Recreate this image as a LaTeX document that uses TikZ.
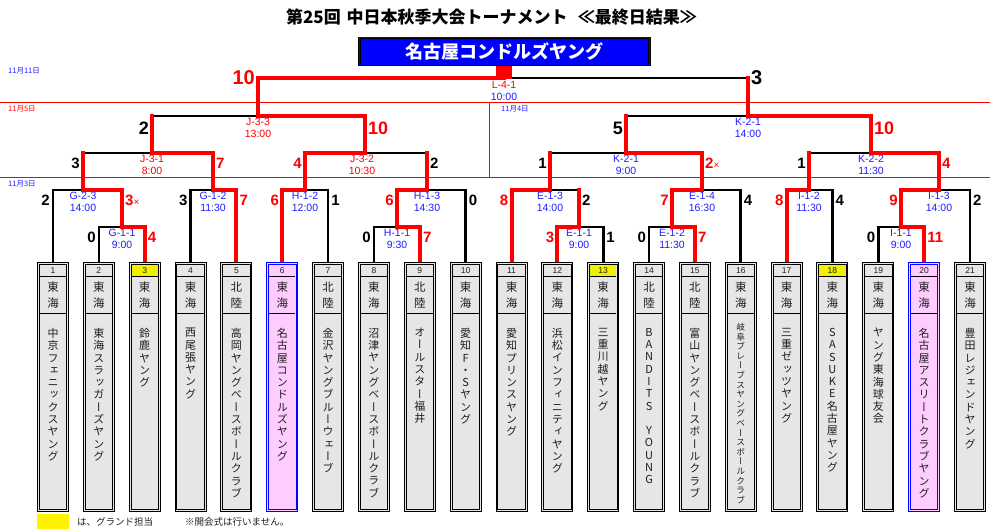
\documentclass[tikz,border=0pt]{standalone}
\usepackage{fontspec}
\setmainfont{Liberation Sans}
\newfontfamily\cjk{Noto Sans CJK JP}
\newfontfamily\cjkv[RawFeature={+vert}]{Noto Sans CJK JP}
\usetikzlibrary{backgrounds}
\definecolor{lblue}{RGB}{30,30,255}
\definecolor{boxgray}{RGB}{230,230,230}
\definecolor{pinkf}{RGB}{255,204,255}
\definecolor{cellyel}{RGB}{240,240,0}
\definecolor{nametext}{RGB}{30,30,30}
\makeatletter
\def\vst#1{\vst@a#1\relax}
\def\vst@a#1{#1\vst@b}
\def\vst@b#1{\ifx\relax#1\else\\#1\expandafter\vst@b\fi}
\makeatother
\newcommand{\xmk}{{\fontsize{10}{10}\selectfont\mdseries ×}}
\tikzset{
 blk/.style={draw=black, line width=2.6pt, line cap=rect},
 win/.style={draw=red, line width=4pt, line cap=rect},
 sepl/.style={draw=red, line width=0.9pt},
 tbox/.style={rectangle, minimum width=31pt, minimum height=249pt, inner sep=0pt, line width=1pt},
 innerframe/.style={line width=0.8pt},
 sepbox/.style={draw=black, line width=0.85pt},
 numtxt/.style={font=\fontsize{8.5}{8.5}\selectfont, inner sep=0pt, text=nametext},
 regtxt/.style={font=\cjk\fontsize{11.5}{16}\selectfont, align=center, inner sep=0pt, text=nametext},
 nametxt/.style={font=\cjkv\fontsize{11}{12.3}\selectfont, align=center, inner sep=0pt, anchor=north, text=nametext},
 sL/.style={anchor=base east, xshift=-3pt, yshift=-16pt, inner sep=0pt, font=\fontsize{15}{15}\selectfont\bfseries},
 sR/.style={anchor=base west, xshift=3pt, yshift=-16pt, inner sep=0pt, font=\fontsize{15}{15}\selectfont\bfseries},
 sLb/.style={anchor=base east, xshift=-3pt, yshift=-19pt, inner sep=0pt, font=\fontsize{18}{18}\selectfont\bfseries},
 sRb/.style={anchor=base west, xshift=3pt, yshift=-19pt, inner sep=0pt, font=\fontsize{18}{18}\selectfont\bfseries},
 sLf/.style={anchor=base east, xshift=-3pt, yshift=-7pt, inner sep=0pt, font=\fontsize{20}{20}\selectfont\bfseries},
 sRf/.style={anchor=base west, xshift=3pt, yshift=-7pt, inner sep=0pt, font=\fontsize{20}{20}\selectfont\bfseries},
 mlab/.style={anchor=north, yshift=-2pt, align=center, inner sep=0pt, font=\fontsize{10.5}{12.3}\selectfont, text=lblue},
 mlabr/.style={mlab, text=red},
 datelab/.style={anchor=west, inner sep=0pt, font=\cjk\fontsize{7.5}{7.5}\selectfont},
}
\newcommand{\teambox}[8]{%
 \node[tbox, fill=#3, draw=#4] (b#1) at (#2,386.9) {};
 \fill[#5] (#2-13.2,264.7) rectangle (#2+13.2,276.7);
 \draw[innerframe, draw=#4] ([shift={(2.3pt,-2.3pt)}]b#1.north west) rectangle ([shift={(-2.3pt,2.3pt)}]b#1.south east);
 \draw[sepbox] (#2-13.2,276.7) -- (#2+13.2,276.7);
 \draw[sepbox] (#2-13.2,313.3) -- (#2+13.2,313.3);
 \node[numtxt] (n#1) at (#2,270.6) {#1};
 \node[regtxt] (r#1) at (#2,295) {#6};
 \node[nametxt, #8] (m#1) at (#2,328) {#7};
}
\begin{document}
\begin{tikzpicture}[x=1pt,y=-1pt]
\useasboundingbox (0,0) rectangle (993,529);

% title and champion
\node[font=\cjk\bfseries\fontsize{17}{17}\selectfont, inner sep=0pt] (title) at (491.5,17.5) {第25回\hspace{0.35em}中日本秋季大会トーナメント\hspace{0.6em}≪最終日結果≫};
\node[draw=black, double=blue, double distance=1pt, line width=0.7pt, fill=blue, minimum width=290pt, minimum height=27pt, inner sep=0pt, text=white, font=\cjk\bfseries\fontsize{18}{18}\selectfont] (banner) at (504.5,51.5) {名古屋コンドルズヤング};

% dates
\node[datelab, text=lblue] (d1) at (8,71) {11月11日};
\node[datelab, text=red] (d2) at (8,109) {11月5日};
\node[datelab, text=lblue] (d3) at (501,108.5) {11月4日};
\node[datelab, text=lblue] (d4) at (8,183.5) {11月3日};

% team boxes
\teambox{1}{53}{boxgray}{black}{boxgray}{東\\海}{\vst{中京フェニックスヤング}}{}
\teambox{2}{98.85}{boxgray}{black}{boxgray}{東\\海}{\vst{東海スラッガーズヤング}}{}
\teambox{3}{144.7}{boxgray}{black}{cellyel}{東\\海}{\vst{鈴鹿ヤング}}{}
\teambox{4}{190.55}{boxgray}{black}{boxgray}{東\\海}{\vst{西尾張ヤング}}{}
\teambox{5}{236.4}{boxgray}{black}{boxgray}{北\\陸}{\vst{高岡ヤングベースボールクラブ}}{}
\teambox{6}{282.25}{pinkf}{blue}{pinkf}{東\\海}{\vst{名古屋コンドルズヤング}}{}
\teambox{7}{328.1}{boxgray}{black}{boxgray}{北\\陸}{\vst{金沢ヤングブルーウェーブ}}{}
\teambox{8}{373.95}{boxgray}{black}{boxgray}{東\\海}{\vst{沼津ヤングベースボールクラブ}}{}
\teambox{9}{419.8}{boxgray}{black}{boxgray}{北\\陸}{\vst{オールスター福井}}{}
\teambox{10}{465.65}{boxgray}{black}{boxgray}{東\\海}{\vst{愛知F・Sヤング}}{}
\teambox{11}{511.5}{boxgray}{black}{boxgray}{東\\海}{\vst{愛知プリンスヤング}}{}
\teambox{12}{557.35}{boxgray}{black}{boxgray}{東\\海}{\vst{浜松インフィニティヤング}}{}
\teambox{13}{603.2}{boxgray}{black}{cellyel}{東\\海}{\vst{三重川越ヤング}}{}
\teambox{14}{649.05}{boxgray}{black}{boxgray}{北\\陸}{\vst{BANDITS~YOUNG}}{}
\teambox{15}{694.9}{boxgray}{black}{boxgray}{北\\陸}{\vst{富山ヤングベースボールクラブ}}{}
\teambox{16}{740.75}{boxgray}{black}{boxgray}{東\\海}{\vst{岐阜ブレーブスヤングベースボールクラブ}}{font=\cjkv\fontsize{8.7}{9.6}\selectfont, yshift=5pt}
\teambox{17}{786.6}{boxgray}{black}{boxgray}{東\\海}{\vst{三重ゼッツヤング}}{}
\teambox{18}{832.45}{boxgray}{black}{cellyel}{東\\海}{\vst{SASUKE名古屋ヤング}}{}
\teambox{19}{878.3}{boxgray}{black}{boxgray}{東\\海}{\vst{ヤング東海球友会}}{}
\teambox{20}{924.15}{pinkf}{blue}{pinkf}{東\\海}{\vst{名古屋アスリートクラブヤング}}{}
\teambox{21}{970}{boxgray}{black}{boxgray}{東\\海}{\vst{豊田レジェンドヤング}}{}

% match junctions
\coordinate (G11) at (122,227);
\coordinate (G23) at (83,190);
\coordinate (G12) at (213,190);
\coordinate (J31) at (152,153);
\coordinate (H12) at (305,190);
\coordinate (H11) at (397,227);
\coordinate (H13) at (427,190);
\coordinate (J32) at (365,153);
\coordinate (J33) at (258,116);
\coordinate (FIN) at (504,78);
\coordinate (E11) at (579,227);
\coordinate (E13) at (550,190);
\coordinate (E12) at (672,227);
\coordinate (E14) at (702,190);
\coordinate (K21a) at (626,153);
\coordinate (I12) at (809,190);
\coordinate (I11) at (901,227);
\coordinate (I13) at (939,190);
\coordinate (K22) at (871,153);
\coordinate (K21b) at (748,116);

\begin{scope}[on background layer]
 % date separators
 \draw[sepl] (0,102) -- (990,102);
 \draw[sepl] (0,177.5) -- (990,177.5);
 \draw[sepl] (489,102) -- (489,177.5);
 \draw[red, line width=1.8pt, dash pattern=on 1.2pt off 1.2pt] (508,177.5) -- (548,177.5);
 % losers
 \draw[blk] (b1.north) |- (G23);
 \draw[blk] (b2.north) |- (G11);
 \draw[blk] (b4.north) |- (G12);
 \draw[blk] (b7.north) |- (H12);
 \draw[blk] (b8.north) |- (H11);
 \draw[blk] (b10.north) |- (H13);
 \draw[blk] (b13.north) |- (E11);
 \draw[blk] (b14.north) |- (E12);
 \draw[blk] (b16.north) |- (E14);
 \draw[blk] (b18.north) |- (I12);
 \draw[blk] (b19.north) |- (I11);
 \draw[blk] (b21.north) |- (I13);
 \draw[blk] (G23 |- J31) -- (J31);
 \draw[blk] (J31 |- J33) -- (J33);
 \draw[blk] (H13 |- J32) -- (J32);
 \draw[blk] (E11 |- E13) -- (E13);
 \draw[blk] (E13 |- K21a) -- (K21a);
 \draw[blk] (K21a |- K21b) -- (K21b);
 \draw[blk] (I12 |- K22) -- (K22);
 \draw[blk] (K21b |- FIN) -- (FIN);
 % winners
 \draw[win] (b3.north) |- (G11);
 \draw[win] (b5.north) |- (G12);
 \draw[win] (b6.north) |- (H12);
 \draw[win] (b9.north) |- (H11);
 \draw[win] (b11.north) |- (E13);
 \draw[win] (b12.north) |- (E11);
 \draw[win] (b15.north) |- (E12);
 \draw[win] (b17.north) |- (I12);
 \draw[win] (b20.north) |- (I11);
 \draw[win] (G11 |- G23) -- (G23);
 \draw[win] (G12 |- J31) -- (J31);
 \draw[win] (H12 |- J32) -- (J32);
 \draw[win] (H11 |- H13) -- (H13);
 \draw[win] (J32 |- J33) -- (J33);
 \draw[win] (J33 |- FIN) -- (FIN);
 \draw[win] (E12 |- E14) -- (E14);
 \draw[win] (E14 |- K21a) -- (K21a);
 \draw[win] (I11 |- I13) -- (I13);
 \draw[win] (I13 |- K22) -- (K22);
 \draw[win] (K22 |- K21b) -- (K21b);
 % winner stems
 \draw[win] (G11) -- (G11 |- G23);
 \draw[win] (G23) -- (G23 |- J31);
 \draw[win] (G12) -- (G12 |- J31);
 \draw[win] (J31) -- (J31 |- J33);
 \draw[win] (H12) -- (H12 |- J32);
 \draw[win] (H11) -- (H11 |- H13);
 \draw[win] (H13) -- (H13 |- J32);
 \draw[win] (J32) -- (J32 |- J33);
 \draw[win] (J33) -- (J33 |- FIN);
 \draw[win] (E11) -- (E11 |- E13);
 \draw[win] (E13) -- (E13 |- K21a);
 \draw[win] (E12) -- (E12 |- E14);
 \draw[win] (E14) -- (E14 |- K21a);
 \draw[win] (K21a) -- (K21a |- K21b);
 \draw[win] (I12) -- (I12 |- K22);
 \draw[win] (I11) -- (I11 |- I13);
 \draw[win] (I13) -- (I13 |- K22);
 \draw[win] (K22) -- (K22 |- K21b);
 \draw[win] (K21b) -- (K21b |- FIN);
 \draw[red, line width=16pt] ([yshift=-1pt]FIN) -- (FIN |- banner.south);
\end{scope}

% scores
\node[sL] (s1) at (b2.north |- G11) {0};
\node[sR, red] (s2) at (b3.north |- G11) {4};
\node[sL] (s3) at (b1.north |- G23) {2};
\node[sR, red] (s4) at (G11 |- G23) {3\xmk};
\node[sL] (s5) at (b4.north |- G12) {3};
\node[sR, red] (s6) at (b5.north |- G12) {7};
\node[sL] (s7) at (G23 |- J31) {3};
\node[sR, red] (s8) at (G12 |- J31) {7};
\node[sL, red] (s9) at (b6.north |- H12) {6};
\node[sR] (s10) at (b7.north |- H12) {1};
\node[sL] (s11) at (b8.north |- H11) {0};
\node[sR, red] (s12) at (b9.north |- H11) {7};
\node[sL, red] (s13) at (H11 |- H13) {6};
\node[sR] (s14) at (b10.north |- H13) {0};
\node[sL, red] (s15) at (H12 |- J32) {4};
\node[sR] (s16) at (H13 |- J32) {2};
\node[sLb] (s17) at (J31 |- J33) {2};
\node[sRb, red] (s18) at (J32 |- J33) {10};
\node[sLf, red] (s19) at (J33 |- FIN) {10};
\node[sRf] (s20) at (K21b |- FIN) {3};
\node[sL, red] (s21) at (b12.north |- E11) {3};
\node[sR] (s22) at (b13.north |- E11) {1};
\node[sL, red] (s23) at (b11.north |- E13) {8};
\node[sR] (s24) at (E11 |- E13) {2};
\node[sL] (s25) at (b14.north |- E12) {0};
\node[sR, red] (s26) at (b15.north |- E12) {7};
\node[sL, red] (s27) at (E12 |- E14) {7};
\node[sR] (s28) at (b16.north |- E14) {4};
\node[sL] (s29) at (E13 |- K21a) {1};
\node[sR, red] (s30) at (E14 |- K21a) {2\xmk};
\node[sL, red] (s31) at (b17.north |- I12) {8};
\node[sR] (s32) at (b18.north |- I12) {4};
\node[sL] (s33) at (b19.north |- I11) {0};
\node[sR, red] (s34) at (b20.north |- I11) {11};
\node[sL, red] (s35) at (I11 |- I13) {9};
\node[sR] (s36) at (b21.north |- I13) {2};
\node[sL] (s37) at (I12 |- K22) {1};
\node[sR, red] (s38) at (I13 |- K22) {4};
\node[sLb] (s39) at (K21a |- K21b) {5};
\node[sRb, red] (s40) at (K22 |- K21b) {10};

% match labels
\node[mlab] (l1) at (G11) {G-1-1\\9:00};
\node[mlab] (l2) at (G23) {G-2-3\\14:00};
\node[mlab] (l3) at (G12) {G-1-2\\11:30};
\node[mlabr] (l4) at (J31) {J-3-1\\8:00};
\node[mlab] (l5) at (H12) {H-1-2\\12:00};
\node[mlab] (l6) at (H11) {H-1-1\\9:30};
\node[mlab] (l7) at (H13) {H-1-3\\14:30};
\node[mlabr, xshift=-3pt] (l8) at (J32) {J-3-2\\10:30};
\node[mlabr] (l9) at (J33) {J-3-3\\13:00};
\node[mlab, yshift=-1pt] (l10) at (FIN) {\textcolor{red}{L-4-1}\\10:00};
\node[mlab] (l11) at (E11) {E-1-1\\9:00};
\node[mlab] (l12) at (E13) {E-1-3\\14:00};
\node[mlab] (l13) at (E12) {E-1-2\\11:30};
\node[mlab] (l14) at (E14) {E-1-4\\16:30};
\node[mlab] (l15) at (K21a) {K-2-1\\9:00};
\node[mlab] (l16) at (I12) {I-1-2\\11:30};
\node[mlab] (l17) at (I11) {I-1-1\\9:00};
\node[mlab] (l18) at (I13) {I-1-3\\14:00};
\node[mlab] (l19) at (K22) {K-2-2\\11:30};
\node[mlab] (l20) at (K21b) {K-2-1\\14:00};

% legend
\node[fill=yellow, minimum width=32pt, minimum height=15pt, inner sep=0pt] (lg) at (53,521.5) {};
\node[anchor=west, inner sep=0pt, font=\cjk\fontsize{9.5}{9.5}\selectfont, text=nametext] (lgt) at (77,522) {は、グランド担当};
\node[anchor=west, inner sep=0pt, font=\cjk\fontsize{9.5}{9.5}\selectfont, text=nametext] (note) at (185,522) {※開会式は行いません。};
\end{tikzpicture}
\end{document}
